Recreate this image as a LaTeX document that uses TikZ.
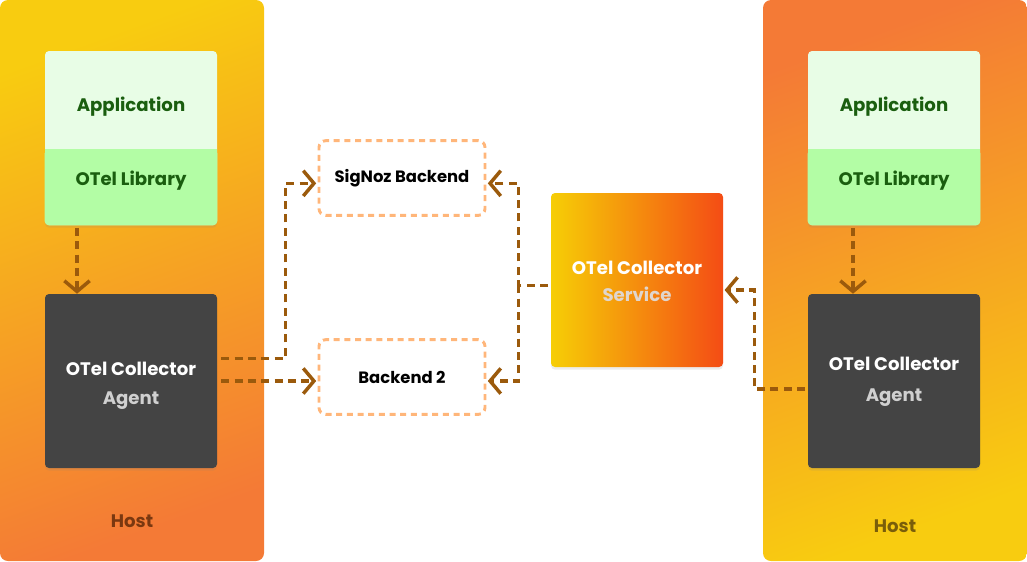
\documentclass[tikz,border=0pt]{standalone}
\usepackage{fontspec}
\setmainfont{Poppins}
\usepackage{xcolor}
\definecolor{HostYellow}{RGB}{248,204,16}
\definecolor{HostOrange}{RGB}{244,122,54}
\definecolor{AppLight}{RGB}{232,253,230}
\definecolor{LibGreen}{RGB}{179,253,165}
\definecolor{TextGreen}{RGB}{26,94,15}
\definecolor{AgentDark}{RGB}{68,68,68}
\definecolor{AgentGray}{RGB}{208,208,208}
\definecolor{FlowBrown}{RGB}{155,90,12}
\definecolor{BackendEdge}{RGB}{255,182,122}
\definecolor{SvcYellow}{RGB}{246,206,6}
\definecolor{SvcRed}{RGB}{244,76,21}
\definecolor{SvcGray}{RGB}{224,214,206}
\definecolor{HostBrownL}{RGB}{122,56,16}
\definecolor{HostBrownR}{RGB}{122,94,10}
\usepackage{tikz}
\usetikzlibrary{arrows.meta}
\usetikzlibrary{shadows}
\tikzstyle{Box}=[rectangle,rounded corners=3pt,minimum width=129pt,
minimum height=130.5pt,inner sep=0pt,
drop shadow={opacity=.15,shadow xshift=0pt,shadow yshift=-2pt}]
\tikzstyle{Backend}=[rectangle,rounded corners=5pt,draw=BackendEdge,
line width=2.2pt,dash pattern=on 4.5pt off 3.5pt,minimum width=124.5pt,
minimum height=56pt,font=\fontsize{12.3}{14}\selectfont\bfseries]
\tikzstyle{Flow}=[draw=FlowBrown,line width=2.6pt,
dash pattern=on 6pt off 4pt,-{Straight Barb[length=8pt,width=19pt]}]
\tikzstyle{BoxText}=[font=\fontsize{13.6}{16}\selectfont\bfseries]

\begin{document}
\begin{tikzpicture}[x=0.75pt,y=-0.75pt]
        \useasboundingbox (0,0) rectangle (1027,561);
        % host panels
        \shade[top color=HostYellow,bottom color=HostOrange,shading angle=20,
            rounded corners=6pt] (0,0) rectangle (264,561);
        \shade[top color=HostOrange,bottom color=HostYellow,shading angle=20,
            rounded corners=6pt] (763,0) rectangle (1027,561);
        \node[BoxText,text=HostBrownL](hostL)at(132,521){Host};
        \node[BoxText,text=HostBrownR](hostR)at(895,526){Host};
        % left host
        \node[Box,fill=AppLight](appboxL)at(131,138){};
        \fill[LibGreen,rounded corners=3pt](appboxL.south west)
            rectangle([yshift=57pt]appboxL.south east);
        \fill[LibGreen]([yshift=50pt]appboxL.south west)
            rectangle([yshift=57pt]appboxL.south east);
        \node[BoxText,text=TextGreen](appL)at(131,107){Application};
        \node[BoxText,text=TextGreen](libL)at(131,181){OTel Library};
        \node[Box,fill=AgentDark](agentL)at(131,381){};
        \node[BoxText,text=white](colL)at(131,369){OTel Collector};
        \node[BoxText,text=AgentGray](agtL)at(131,401){Agent};
        % right host
        \node[Box,fill=AppLight](appboxR)at(894,138){};
        \fill[LibGreen,rounded corners=3pt](appboxR.south west)
            rectangle([yshift=57pt]appboxR.south east);
        \fill[LibGreen]([yshift=50pt]appboxR.south west)
            rectangle([yshift=57pt]appboxR.south east);
        \node[BoxText,text=TextGreen](appR)at(894,107){Application};
        \node[BoxText,text=TextGreen](libR)at(894,181){OTel Library};
        \node[Box,fill=AgentDark](agentR)at(894,381){};
        \node[BoxText,text=white](colR)at(894,364){OTel Collector};
        \node[BoxText,text=AgentGray](agtR)at(894,398){Agent};
        % backends and service
        \node[Backend](sigNoz)at(402,178){SigNoz Backend};
        \node[Backend](backTwo)at(402,377){Backend 2};
        \node[Box,left color=SvcYellow,right color=SvcRed](svc)at(637,280){};
        \node[BoxText,text=white](colS)at(637,268){OTel Collector};
        \node[BoxText,text=SvcGray](srvS)at(637,294){Service};
        % flows
        \draw[Flow]([xshift=-40.5pt,yshift=-2pt]appboxL.south)
            --([xshift=-40.5pt]agentL.north);
        \draw[Flow]([xshift=-30.75pt,yshift=-2pt]appboxR.south)
            --([xshift=-30.75pt]agentR.north);
        \draw[Flow]([shift={(3pt,17pt)}]agentL.east)--++(48pt,0)
            |-([shift={(-1pt,-4pt)}]sigNoz.west);
        \draw[Flow]([xshift=3pt]agentL.east)
            --([xshift=-1pt]agentL.east-|backTwo.west);
        \draw[Flow]([shift={(-2pt,-4pt)}]svc.west)--++(-22pt,0)coordinate(fork)
            |-([shift={(1pt,-4pt)}]sigNoz.east);
        \draw[Flow](fork)|-([shift={(1pt,-3pt)}]backTwo.east);
        \draw[Flow]([shift={(-2pt,-6pt)}]agentR.west)--++(-38pt,0)
            |-([shift={(1pt,-7.5pt)}]svc.east);
    \end{tikzpicture}
\end{document}
